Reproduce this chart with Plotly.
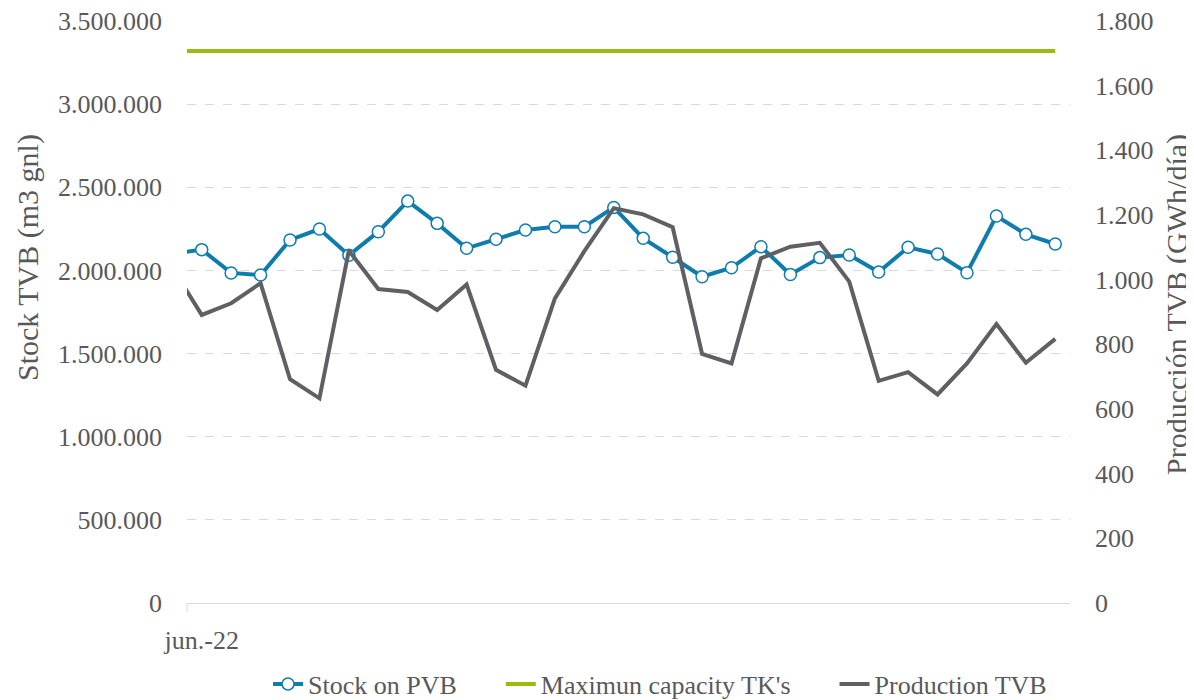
import plotly.graph_objects as go
import pandas as pd

# ---- data ----
dates = pd.date_range("2022-05-31", "2022-06-30", freq="D").strftime("%Y-%m-%d").tolist()

stock_pvb = [2100000, 2125000, 1985000, 1972000, 2183000, 2249000, 2091000, 2233000,
             2417000, 2283000, 2133000, 2187000, 2243000, 2263000, 2263000, 2379000,
             2193000, 2079000, 1962000, 2016000, 2143000, 1976000, 2077000, 2093000,
             1990000, 2139000, 2099000, 1986000, 2327000, 2217000, 2159000]

max_capacity = [3320000] * len(dates)

production_tvb = [1037, 891, 927, 989, 692, 633, 1090, 971, 962, 906, 985, 721, 672,
                  942, 1088, 1221, 1202, 1162, 770, 741, 1066, 1102, 1114, 994, 687,
                  714, 645, 741, 863, 743, 817]

names = ["Stock on PVB", "Maximun capacity TK's", "Production TVB"]
tick_label = ["jun.-22"]

FONT = "Liberation Serif"
TXT = "#595959"
pad = "\u00a0" * 6

fig = go.Figure()
fig.add_trace(go.Scatter(
    x=dates, y=stock_pvb, name=names[0] + pad, mode="lines+markers",
    line=dict(color="#0f7cae", width=4),
    marker=dict(symbol="circle", size=12, color="white",
                line=dict(color="#0f7cae", width=1.5)),
    cliponaxis=True))
fig.add_trace(go.Scatter(
    x=dates, y=max_capacity, name=names[1] + pad, mode="lines",
    line=dict(color="#9bbb0f", width=4)))
fig.add_trace(go.Scatter(
    x=dates, y=production_tvb, name=names[2], mode="lines", yaxis="y2",
    line=dict(color="#5f6064", width=4)))

# page body has an 8px margin; figure is sized so the plot area lands on the reference
fig.update_layout(
    width=1186, height=692,
    margin=dict(l=179, r=124, t=13, b=97, autoexpand=False),
    paper_bgcolor="white", plot_bgcolor="white",
    separators=",.",
    font=dict(family=FONT, size=26, color=TXT),
    showlegend=True,
    legend=dict(orientation="h", x=(268 - 187) / 883, xanchor="left",
                y=(603 - 684) / 582, yanchor="middle",
                font=dict(family=FONT, size=26, color=TXT),
                bgcolor="rgba(0,0,0,0)", traceorder="normal"),
    xaxis=dict(
        type="date",
        range=["2022-05-31 12:00", "2022-06-30 12:00"],
        tickvals=["2022-06-01"], ticktext=tick_label,
        ticks="", showgrid=False, zeroline=False,
        showline=True, linecolor="#d9d9d9", linewidth=1,
        ticklabelstandoff=14, automargin=False, ticklabeloverflow="allow",
        tickfont=dict(family=FONT, size=26, color=TXT)),
    yaxis=dict(
        range=[0, 3500000], dtick=500000, tickformat=",d",
        showgrid=True, gridcolor="#d9d9d9", griddash="dash", gridwidth=1,
        zeroline=False, ticks="", ticklabelstandoff=24, automargin=False,
        ticklabeloverflow="allow",
        tickfont=dict(family=FONT, size=26, color=TXT)),
    yaxis2=dict(
        overlaying="y", side="right",
        range=[0, 1800], dtick=200, tickformat=",d",
        showgrid=False, zeroline=False, ticks="", ticklabelstandoff=24, automargin=False,
        ticklabeloverflow="allow",
        tickfont=dict(family=FONT, size=26, color=TXT)),
    shapes=[dict(type="line", xref="paper", yref="paper", x0=0, x1=0,
                 y0=0, y1=-9 / 582, line=dict(color="#d9d9d9", width=1))],
    annotations=[
        dict(text="Stock TVB (m3 gnl)", textangle=-90, xref="paper", yref="paper",
             x=(28 - 187) / 883, y=(603 - 258) / 582, xanchor="center", yanchor="middle",
             showarrow=False, font=dict(family=FONT, size=30, color=TXT)),
        dict(text="Producción TVB (GWh/día)", textangle=-90, xref="paper", yref="paper",
             x=(1177 - 187) / 883, y=(603 - 305) / 582, xanchor="center", yanchor="middle",
             showarrow=False, font=dict(family=FONT, size=30, color=TXT)),
    ],
)

fig.write_html("out.html")
